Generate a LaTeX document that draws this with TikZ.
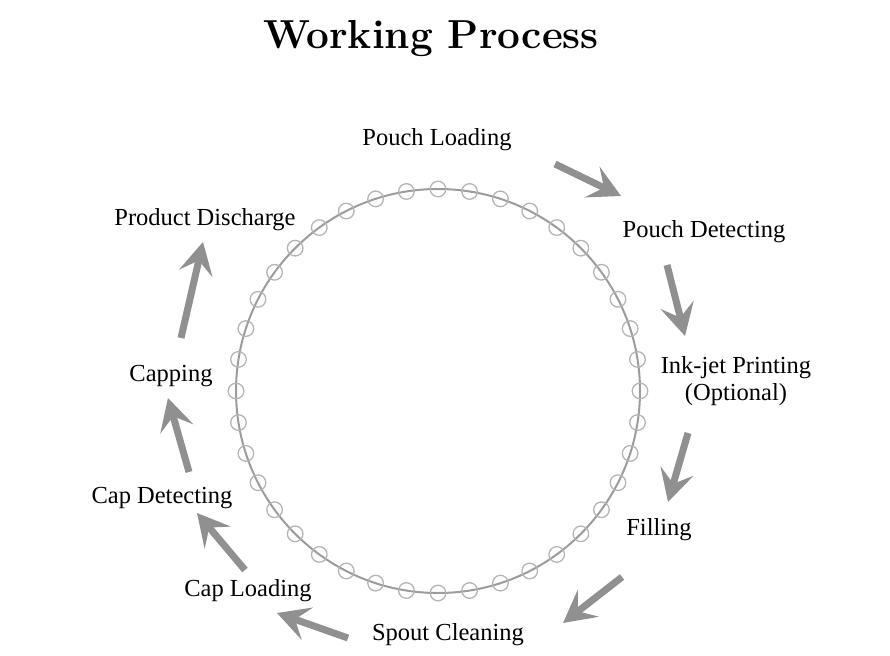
\documentclass[tikz,border=0pt]{standalone}
\usepackage{fontspec}
\newfontfamily\stagefont{Liberation Serif}
\usetikzlibrary{arrows.meta}
\definecolor{ringgray}{HTML}{9C9C9C}
\definecolor{pocketgray}{HTML}{B4B4B4}
\definecolor{flowgray}{HTML}{909090}
\begin{document}
\begin{tikzpicture}[x=1pt, y=-1pt,
    stage/.style={font=\stagefont\fontsize{24.5}{27}\selectfont, inner sep=1pt, align=center},
    flow/.style={draw=flowgray, line width=7pt, -{Stealth[length=32pt, width=34pt, inset=13pt]}},
    ring/.style={draw=ringgray, line width=2pt},
    pocket/.style={draw=pocketgray, line width=1.3pt}]
    \useasboundingbox (0, 0) rectangle (890, 655);
    \node (title) at (431, 39) {\fontsize{40.5}{44}\selectfont\bfseries Working Process};
    \coordinate (hub) at (438, 391);
    \draw[ring] (hub) circle[radius=202pt];
    \foreach \a in {0, 9, ..., 351} {
        \draw[pocket] (hub) ++(\a:202) circle[radius=7.8pt];
    }
    \node[stage] (pl) at (437, 140) {Pouch Loading};
    \node[stage] (pd) at (704, 232) {Pouch Detecting};
    \node[stage] (ink) at (736, 381) {Ink-jet Printing\\(Optional)};
    \node[stage] (fill) at (659, 530) {Filling};
    \node[stage] (sc) at (448, 635) {Spout Cleaning};
    \node[stage] (cl) at (248, 591) {Cap Loading};
    \node[stage] (cd) at (162, 498) {Cap Detecting};
    \node[stage] (cap) at (171, 376) {Capping};
    \node[stage] (prd) at (205, 220) {Product Discharge};
    \draw[flow] ([shift={(118, 24)}]pl.center) -- ([shift={(-83, -36)}]pd.center);
    \draw[flow] ([shift={(-37, 33)}]pd.center) -- ([shift={(-51, -45)}]ink.center);
    \draw[flow] ([shift={(-48, 52)}]ink.center) -- ([shift={(9, -28)}]fill.center);
    \draw[flow] ([shift={(-37, 47)}]fill.center) -- ([shift={(115, -12)}]sc.center);
    \draw[flow] ([shift={(-100, 3)}]sc.center) -- ([shift={(29, 22)}]cl.center);
    \draw[flow] ([shift={(-3, -21)}]cl.center) -- ([shift={(35, 15)}]cd.center);
    \draw[flow] ([shift={(27, -26)}]cd.center) -- ([shift={(-3, 22)}]cap.center);
    \draw[flow] ([shift={(10, -38)}]cap.center) -- ([shift={(-2, 22)}]prd.center);
\end{tikzpicture}
\end{document}
